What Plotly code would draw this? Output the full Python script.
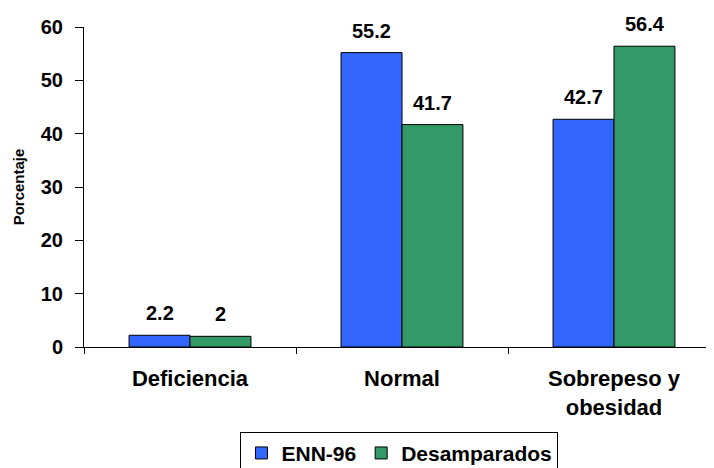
import plotly.graph_objects as go

categories = ["Deficiencia", "Normal", "Sobrepeso y<br>obesidad"]
enn96 = [2.2, 55.2, 42.7]
desamparados = [2.0, 41.7, 56.4]
enn96_labels = ["2.2", "55.2", "42.7"]
desamp_labels = ["2", "41.7", "56.4"]

FONT = "Arial, Liberation Sans, sans-serif"

fig = go.Figure()
fig.add_trace(go.Bar(
    x=categories, y=enn96, name="<b>ENN-96</b>",
    marker=dict(color="#3366FF", line=dict(color="black", width=1)),
))
fig.add_trace(go.Bar(
    x=categories, y=desamparados, name="<b>Desamparados</b>",
    marker=dict(color="#339966", line=dict(color="black", width=1)),
))

# value labels above bars
for vals, labels, xs in [(enn96, enn96_labels, -30.5), (desamparados, desamp_labels, 30.5)]:
    for c, v, lab in zip(categories, vals, labels):
        fig.add_annotation(
            x=c, y=v, text="<b>" + lab + "</b>", showarrow=False,
            xshift=xs, yshift=9, yanchor="bottom",
            font=dict(family=FONT, size=20, color="black"),
        )

# page body has an 8px margin, so the figure is offset by (8, 8) in the window
fig.update_layout(
    width=714, height=480,
    margin=dict(l=76, r=2, t=19, b=141),
    plot_bgcolor="white", paper_bgcolor="white",
    barmode="group", bargap=0.425, bargroupgap=0,
    font=dict(family=FONT, color="black", size=15),
    showlegend=True,
    legend=dict(
        orientation="h", x=0.496, xanchor="center", y=-0.265, yanchor="top",
        bordercolor="black", borderwidth=1,
        font=dict(family=FONT, size=21, color="black"),
        tracegroupgap=0, itemwidth=30,
    ),
    xaxis=dict(
        type="category", range=[-0.5, 2.5], automargin=False,
        showline=True, linecolor="black", linewidth=1,
        ticks="outside", tickson="boundaries", ticklen=6, tickcolor="black",
        tickfont=dict(family=FONT, size=22, color="black"),
        ticklabelstandoff=12,
        tickprefix="<b>", ticksuffix="</b>",
        showgrid=False,
    ),
    yaxis=dict(
        range=[0, 60], dtick=10, automargin=False,
        showline=True, linecolor="black", linewidth=1,
        ticks="outside", ticklen=8, tickcolor="black",
        tickfont=dict(family=FONT, size=20, color="black"),
        ticklabelstandoff=8,
        tickprefix="<b>", ticksuffix="</b>",
        showgrid=False, zeroline=False,
        title=dict(text="<b>Porcentaje</b>", font=dict(family=FONT, size=15, color="black"), standoff=12),
    ),
)

fig.write_html("out.html")
